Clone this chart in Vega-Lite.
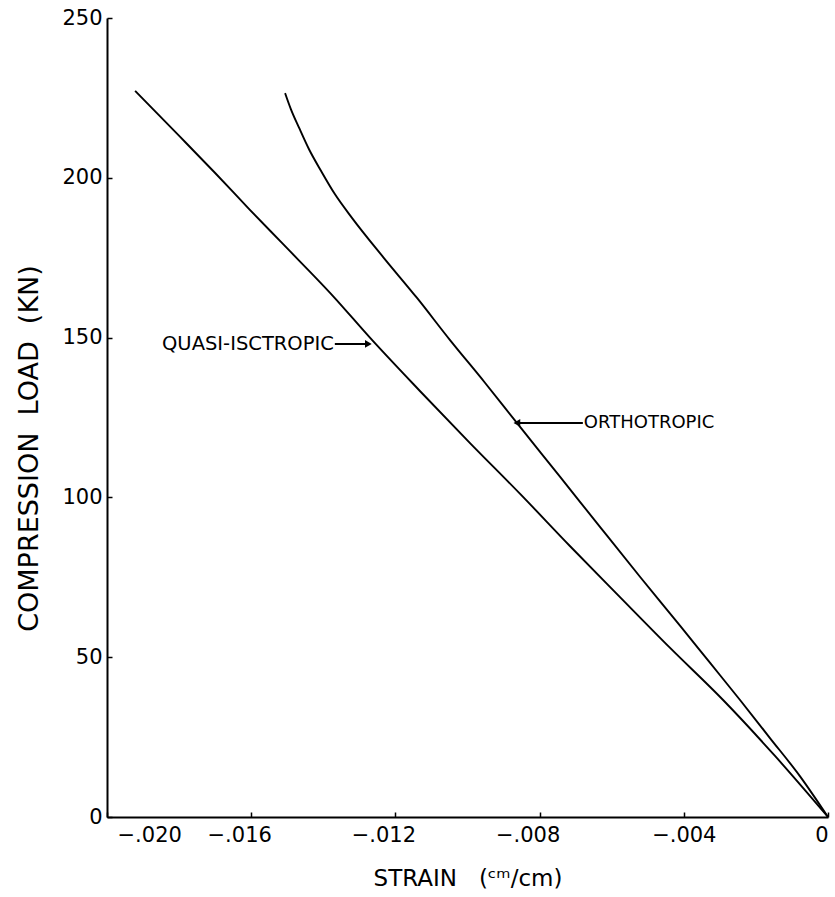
{
  "$schema": "https://vega.github.io/schema/vega-lite/v6.json",
  "width": 721,
  "height": 799,
  "autosize": {"type": "none"},
  "padding": {"left": 107, "top": 18, "right": 7, "bottom": 80},
  "background": "white",
  "config": {
    "view": {"stroke": null},
    "font": "DejaVu Sans",
    "axis": {
      "grid": false,
      "domainColor": "black",
      "domainWidth": 2,
      "tickColor": "black",
      "tickWidth": 1.5,
      "tickSize": -5,
      "labelColor": "black",
      "labelFont": "DejaVu Sans",
      "labelFontSize": 21,
      "titleColor": "black",
      "titleFont": "DejaVu Sans",
      "titleFontWeight": "normal"
    }
  },
  "datasets": {
    "curves": [
      {"series": "Quasi-isotropic", "strain": -0.01922, "load": 227.2},
      {"series": "Quasi-isotropic", "strain": -0.01797, "load": 212.8},
      {"series": "Quasi-isotropic", "strain": -0.017, "load": 201.5},
      {"series": "Quasi-isotropic", "strain": -0.01603, "load": 189.9},
      {"series": "Quasi-isotropic", "strain": -0.01512, "load": 179.3},
      {"series": "Quasi-isotropic", "strain": -0.01373, "load": 163.0},
      {"series": "Quasi-isotropic", "strain": -0.0127, "load": 149.9},
      {"series": "Quasi-isotropic", "strain": -0.01132, "load": 133.3},
      {"series": "Quasi-isotropic", "strain": -0.00993, "load": 117.0},
      {"series": "Quasi-isotropic", "strain": -0.00854, "load": 101.1},
      {"series": "Quasi-isotropic", "strain": -0.00716, "load": 84.8},
      {"series": "Quasi-isotropic", "strain": -0.00577, "load": 68.8},
      {"series": "Quasi-isotropic", "strain": -0.00438, "load": 52.9},
      {"series": "Quasi-isotropic", "strain": -0.00291, "load": 36.6},
      {"series": "Quasi-isotropic", "strain": -0.00147, "load": 19.1},
      {"series": "Quasi-isotropic", "strain": 0, "load": 0},
      {"series": "Orthotropic", "strain": -0.01506, "load": 226.5},
      {"series": "Orthotropic", "strain": -0.0149, "load": 221.5},
      {"series": "Orthotropic", "strain": -0.01467, "load": 215.6},
      {"series": "Orthotropic", "strain": -0.0144, "load": 209.0},
      {"series": "Orthotropic", "strain": -0.01406, "load": 202.1},
      {"series": "Orthotropic", "strain": -0.01368, "load": 194.9},
      {"series": "Orthotropic", "strain": -0.0132, "load": 187.4},
      {"series": "Orthotropic", "strain": -0.01234, "load": 175.2},
      {"series": "Orthotropic", "strain": -0.0114, "load": 162.4},
      {"series": "Orthotropic", "strain": -0.01049, "load": 149.3},
      {"series": "Orthotropic", "strain": -0.00951, "load": 135.8},
      {"series": "Orthotropic", "strain": -0.00863, "load": 123.3},
      {"series": "Orthotropic", "strain": -0.00743, "load": 106.4},
      {"series": "Orthotropic", "strain": -0.00632, "load": 90.7},
      {"series": "Orthotropic", "strain": -0.00521, "load": 75.1},
      {"series": "Orthotropic", "strain": -0.0041, "load": 59.8},
      {"series": "Orthotropic", "strain": -0.00327, "load": 48.2},
      {"series": "Orthotropic", "strain": -0.00244, "load": 36.6},
      {"series": "Orthotropic", "strain": -0.00161, "load": 24.7},
      {"series": "Orthotropic", "strain": -0.00078, "load": 12.8},
      {"series": "Orthotropic", "strain": 0, "load": 0}
    ],
    "callouts": [
      {"label": "QUASI-ISCTROPIC", "tail": -0.01368, "tip": -0.01275, "load": 148.0, "align": "right", "head": "triangle-right"},
      {"label": "ORTHOTROPIC", "tail": -0.0068, "tip": -0.00863, "load": 123.3, "align": "left", "head": "triangle-left"}
    ]
  },
  "layer": [
    {
      "data": {"name": "curves"},
      "mark": {"type": "line", "color": "black", "strokeWidth": 1.9, "interpolate": "monotone"},
      "encoding": {
        "x": {
          "field": "strain",
          "type": "quantitative",
          "scale": {"domain": [-0.02, 0], "nice": false, "zero": false},
          "axis": {
            "values": [-0.02, -0.016, -0.012, -0.008, -0.004, 0],
            "labelExpr": "datum.value == 0 ? '0' : replace(format(datum.value, '.3f'), '0.', '.')",
            "labelOffset": {
              "condition": [
                {"test": "datum.value <= -0.0195", "value": 10},
                {"test": "datum.value >= -0.005", "value": 0}
              ],
              "value": -12
            },
            "labelPadding": 12,
            "title": "STRAIN\u00a0\u00a0\u00a0(ᶜᵐ/cm)",
            "titleFontSize": 23,
            "titlePadding": 22
          }
        },
        "y": {
          "field": "load",
          "type": "quantitative",
          "scale": {"domain": [0, 250], "nice": false},
          "axis": {
            "values": [0, 50, 100, 150, 200, 250],
            "labelPadding": 10,
            "title": "COMPRESSION\u00a0\u00a0LOAD\u00a0\u00a0(KN)",
            "titleFontSize": 27,
            "titlePadding": 18,
            "titleY": 430
          }
        },
        "detail": {"field": "series"}
      }
    },
    {
      "data": {"name": "callouts"},
      "mark": {"type": "rule", "color": "black", "strokeWidth": 2},
      "encoding": {
        "x": {"field": "tail", "type": "quantitative"},
        "x2": {"field": "tip"},
        "y": {"field": "load", "type": "quantitative"}
      }
    },
    {
      "data": {"name": "callouts"},
      "mark": {"type": "point", "filled": true, "color": "black", "opacity": 1, "size": 60},
      "encoding": {
        "x": {"field": "tip", "type": "quantitative"},
        "y": {"field": "load", "type": "quantitative"},
        "shape": {"field": "head", "type": "nominal", "scale": null}
      }
    },
    {
      "data": {"name": "callouts"},
      "transform": [{"filter": "datum.align == 'right'"}],
      "mark": {"type": "text", "align": "right", "baseline": "middle", "fontSize": 19.5, "color": "black", "dx": -1},
      "encoding": {
        "x": {"field": "tail", "type": "quantitative"},
        "y": {"field": "load", "type": "quantitative"},
        "text": {"field": "label"}
      }
    },
    {
      "data": {"name": "callouts"},
      "transform": [{"filter": "datum.align == 'left'"}],
      "mark": {"type": "text", "align": "left", "baseline": "middle", "fontSize": 18, "color": "black", "dx": 1},
      "encoding": {
        "x": {"field": "tail", "type": "quantitative"},
        "y": {"field": "load", "type": "quantitative"},
        "text": {"field": "label"}
      }
    }
  ]
}
